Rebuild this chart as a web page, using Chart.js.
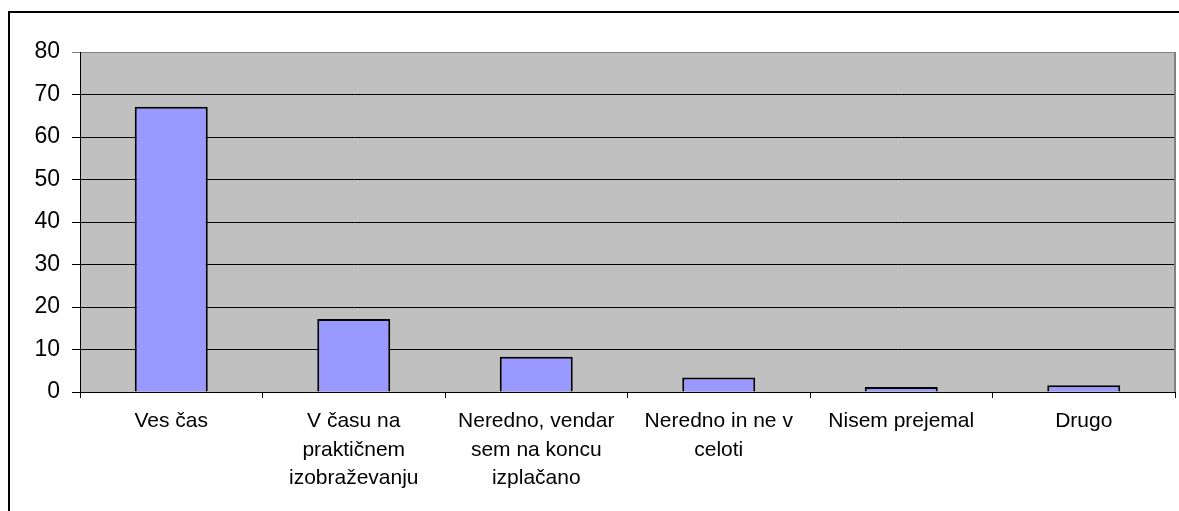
<!DOCTYPE html>
<html>
<head>
<meta charset="utf-8">
<script src="https://cdn.jsdelivr.net/npm/chart.js@4"></script>
<style>
  body { margin: 0; background: #fff; }
  #wrap { position: relative; width: 1179px; height: 511px; overflow: hidden; }
  #frame { position: absolute; left: 8px; top: 11px; width: 1300px; height: 600px; border: 2px solid #000; }
  canvas { position: absolute; left: 0; top: 0; }
</style>
</head>
<body>
<div id="wrap">
  <div id="frame"></div>
  <canvas id="chart" width="1179" height="511"></canvas>
</div>
<script>
// Categories (multi-line labels as in the original)
const categories = [
  ["Ves čas"],
  ["V času na", "praktičnem", "izobraževanju"],
  ["Neredno, vendar", "sem na koncu", "izplačano"],
  ["Neredno in ne v", "celoti"],
  ["Nisem prejemal"],
  ["Drugo"]
];

// Values
const values = [67.1, 17.2, 8.3, 3.4, 1.2, 1.6];

// Y axis ticks
const yMin = 0;
const yMax = 80;
const yStep = 10;

// Grey plot area with a grey frame on the right
const plotArea = {
  id: "plotArea",
  beforeDraw(chart) {
    const { ctx, chartArea: a } = chart;
    ctx.save();
    ctx.fillStyle = "#c0c0c0";
    ctx.fillRect(a.left, a.top, a.right - a.left, a.bottom - a.top);
    ctx.restore();
  },
  afterDraw(chart) {
    const { ctx, chartArea: a } = chart;
    ctx.save();
    ctx.strokeStyle = "#808080";
    ctx.lineWidth = 2;
    ctx.beginPath();
    ctx.moveTo(a.right, a.top);
    ctx.lineTo(a.right, a.bottom);
    ctx.stroke();
    ctx.restore();
  }
};

const font = "'Liberation Sans', Arial, sans-serif";

new Chart(document.getElementById("chart"), {
  type: "bar",
  data: {
    labels: categories,
    datasets: [{
      data: values,
      backgroundColor: "#9999ff",
      borderColor: "#000",
      borderWidth: 2,
      barPercentage: 0.4,
      categoryPercentage: 1.0
    }]
  },
  options: {
    responsive: false,
    animation: false,
    layout: { padding: { top: 52, right: 4, left: 0, bottom: 0 } },
    plugins: { legend: { display: false }, tooltip: { enabled: false } },
    scales: {
      x: {
        afterFit(scale) { scale.height = 119; },
        grid: { offset: true, drawOnChartArea: false, drawTicks: true, tickLength: 6, color: "#000" },
        border: { color: "#000", width: 1 },
        ticks: {
          color: "#000",
          font: { family: font, size: 21, lineHeight: 1.36 },
          maxRotation: 0,
          autoSkip: false,
          padding: 9
        }
      },
      y: {
        min: yMin,
        max: yMax,
        afterFit(scale) { scale.width = 80; },
        grid: {
          color: ctx => ctx.tick && ctx.tick.value === yMax ? "#808080" : "#000",
          lineWidth: 1,
          tickLength: 8
        },
        border: { color: "#000", width: 1 },
        ticks: {
          stepSize: yStep,
          color: "#000",
          font: { family: font, size: 23 },
          padding: 12
        }
      }
    }
  },
  plugins: [plotArea]
});
</script>
</body>
</html>
